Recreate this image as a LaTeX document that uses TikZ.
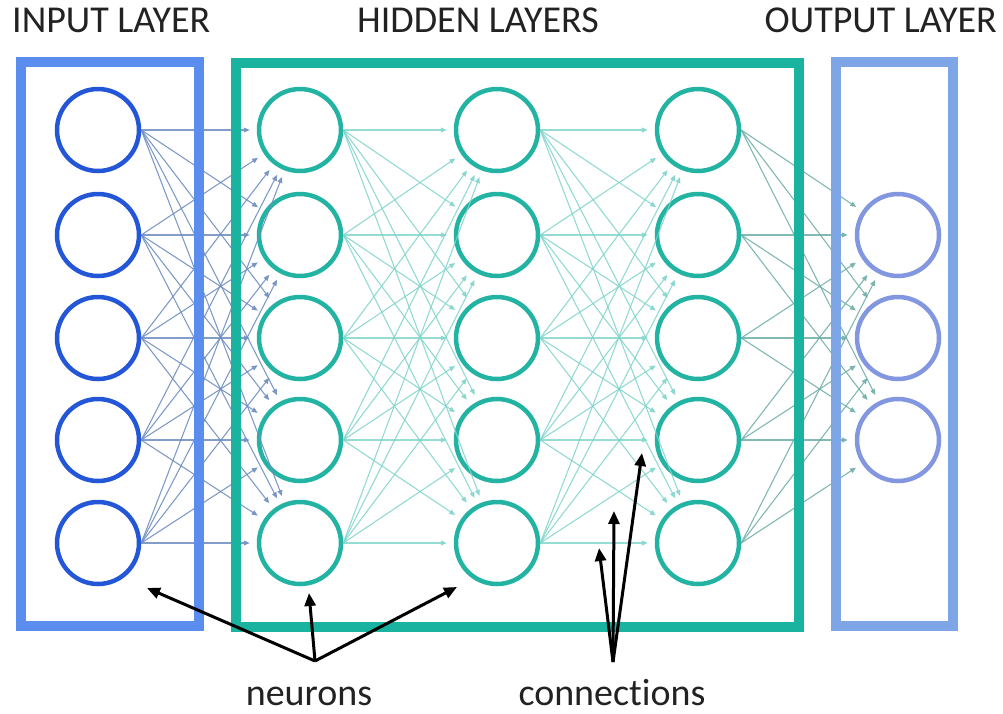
\documentclass[tikz,border=0pt]{standalone}
\usepackage{fontspec}
\setmainfont[RawFeature=-liga]{Carlito}
\usetikzlibrary{arrows.meta}
\definecolor{inboxc}{HTML}{5B8DEF}
\definecolor{inneuc}{HTML}{2457D8}
\definecolor{hidboxc}{HTML}{1AB3A0}
\definecolor{hidneuc}{HTML}{22B3A2}
\definecolor{outboxc}{HTML}{7EA6E6}
\definecolor{outneuc}{HTML}{8396E0}
\definecolor{inlinkc}{HTML}{6E8DC0}
\definecolor{hidlinkc}{HTML}{7DD3CA}
\definecolor{outlinkc}{HTML}{6FAEA8}
\definecolor{textc}{HTML}{222222}
\tikzset{
  neuron/.style={circle, minimum size=82pt, inner sep=0pt, line width=4.5pt, fill=white},
  inneuron/.style={neuron, draw=inneuc},
  hidneuron/.style={neuron, draw=hidneuc},
  outneuron/.style={neuron, draw=outneuc},
  link/.style={line width=1.1pt, shorten >=7pt, -{Triangle[length=6pt,width=5pt]}},
  inlink/.style={link, draw=inlinkc, fill=inlinkc, opacity=0.85},
  hidlink/.style={link, draw=hidlinkc, fill=hidlinkc, opacity=0.8},
  outlink/.style={link, draw=outlinkc, fill=outlinkc, opacity=0.85},
  layerbox/.style={line width=10.5pt},
  title/.style={font=\fontsize{38}{44}\selectfont, text=textc, inner sep=0pt},
  pointer/.style={line width=3pt, black, -{Triangle[length=13pt,width=11pt]}}
}
\begin{document}
\begin{tikzpicture}[x=1pt, y=-1pt]
\useasboundingbox (0,0) rectangle (1003,713);

% neurons
\foreach \i/\y in {1/130,2/235,3/338,4/440,5/543} {
  \node[inneuron]  (i\i) at (98,\y)  {};
  \node[hidneuron] (h\i) at (300,\y) {};
  \node[hidneuron] (k\i) at (497,\y) {};
  \node[hidneuron] (m\i) at (698,\y) {};
}
\foreach \i/\y in {1/235,2/338,3/440}
  \node[outneuron] (o\i) at (898,\y) {};

% weighted connections between consecutive layers
\foreach \a in {1,...,5} {
  \foreach \b in {1,...,5} {
    \draw[inlink]  (i\a.east) -- (h\b);
    \draw[hidlink] (h\a.east) -- (k\b);
    \draw[hidlink] (k\a.east) -- (m\b);
  }
  \foreach \b in {1,2,3}
    \draw[outlink] (m\a.east) -- (o\b);
}

% layer frames
\draw[layerbox, draw=inboxc]  (21,62) rectangle (199,626);
\draw[layerbox, draw=hidboxc] (236,63) rectangle (799,627);
\draw[layerbox, draw=outboxc] (836,62) rectangle (953,626);

% layer titles
\node[title, anchor=base west] (tin)  at (12,32)  {INPUT LAYER};
\node[title, anchor=base]      (thid) at (478,32) {HIDDEN LAYERS};
\node[title, anchor=base east] (tout) at (997,32) {OUTPUT LAYER};

% annotations
\node[title, anchor=base] (neu) at (309,705) {neurons};
\node[title, anchor=base] (con) at (612,705) {connections};

\coordinate (na) at (315,661);
\coordinate (n1) at (147,588);
\coordinate (n2) at (309,593);
\coordinate (n3) at (457,587);
\draw[pointer] (na) -- (n1);
\draw[pointer] (na) -- (n2);
\draw[pointer] (na) -- (n3);

\coordinate (ca) at (613,662);
\coordinate (c1) at (599,548);
\coordinate (c2) at (614,511);
\coordinate (c3) at (642,453);
\draw[pointer] (ca) -- (c1);
\draw[pointer] (ca) -- (c2);
\draw[pointer] (ca) -- (c3);
\end{tikzpicture}
\end{document}
